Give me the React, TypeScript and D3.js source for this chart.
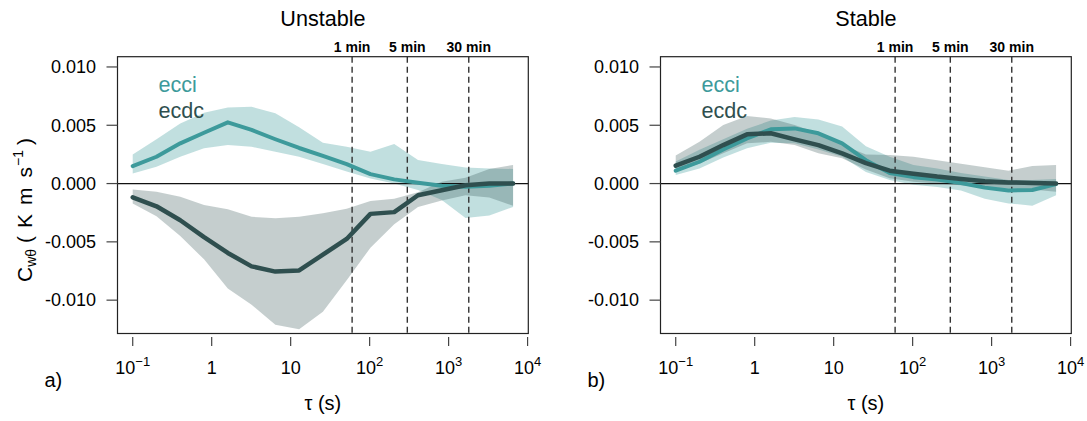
import * as d3 from 'd3';

// averaging time tau (s)
const tau = [0.1, 0.2, 0.4, 0.8, 1.6, 3.2, 6.4, 12.8, 25.6, 51.2, 102.4, 204.8, 409.6, 819.2, 1638.4, 3276.8, 6553.6];

// Unstable
const ecciMeanU = [0.0015, 0.0023, 0.00345, 0.00436, 0.00525, 0.0046, 0.0038, 0.00305, 0.00238, 0.00167, 0.00081, 0.00036, 0.00007, -0.00019, -0.00027, -0.00019, 0.0];
const ecciUpU = [0.0025, 0.00379, 0.00516, 0.00607, 0.00653, 0.00659, 0.00602, 0.00482, 0.0035, 0.00316, 0.00273, 0.00339, 0.00202, 0.00167, 0.00137, 0.0013, 0.00125];
const ecciLoU = [0.00087, 0.00144, 0.0023, 0.00302, 0.0033, 0.00316, 0.00273, 0.0023, 0.00167, 0.00103, 0.00043, 0.0, -0.00056, -0.00142, -0.00295, -0.00275, -0.002];
const ecdcMeanU = [-0.00118, -0.00195, -0.00315, -0.0046, -0.00595, -0.0071, -0.00755, -0.00745, -0.0061, -0.00475, -0.0026, -0.00245, -0.001, -0.00058, -0.00015, 0.0, 0.0];
const ecdcUpU = [-0.0005, -0.0007, -0.00113, -0.00184, -0.00221, -0.00285, -0.00298, -0.00285, -0.00255, -0.00215, -0.0015, -0.0013, -0.00075, 0.00015, 0.0005, 0.00125, 0.0016];
const ecdcLoU = [-0.0017, -0.0028, -0.0045, -0.0065, -0.009, -0.0104, -0.0121, -0.0125, -0.011, -0.0083, -0.0055, -0.0035, -0.002, -0.00145, -0.001, -0.0012, -0.0019];

// Stable
const ecciMeanS = [0.0011, 0.00187, 0.00293, 0.00388, 0.00465, 0.00473, 0.00431, 0.00345, 0.002, 0.0009, 0.00055, 0.00035, 0.00005, -0.00035, -0.0006, -0.00055, -0.00005];
const ecciUpS = [0.0019, 0.0029, 0.0038, 0.0047, 0.0054, 0.0057, 0.0055, 0.0049, 0.0032, 0.0023, 0.0016, 0.0013, 0.0009, 0.0006, 0.0003, 0.0003, 0.0004];
const ecciLoS = [0.00073, 0.0013, 0.00224, 0.00302, 0.0035, 0.00345, 0.00293, 0.0023, 0.001, 0.0003, -0.0001, -0.0003, -0.0006, -0.0013, -0.0017, -0.0019, -0.001];
const ecdcMeanS = [0.00153, 0.0023, 0.0033, 0.00422, 0.00431, 0.00379, 0.0033, 0.00259, 0.00175, 0.0011, 0.00085, 0.0006, 0.0004, 0.0002, 0.0001, 0.00005, 0.0];
const ecdcUpS = [0.0024, 0.00358, 0.00502, 0.0058, 0.00559, 0.00502, 0.00431, 0.0033, 0.0025, 0.00244, 0.0023, 0.002, 0.0017, 0.0014, 0.0011, 0.0015, 0.0016];
const ecdcLoS = [0.00101, 0.00173, 0.00259, 0.00345, 0.00358, 0.0033, 0.00259, 0.00216, 0.0012, 0.00045, 0.00015, 0.0, -0.00015, -0.00035, -0.00045, -0.0005, -0.0007];

const yTicks = [0.01, 0.005, 0, -0.005, -0.01];
const yTickLabels = ['0.010', '0.005', '0.000', '-0.005', '-0.010'];
const xTicks = [0.1, 1, 10, 100, 1000, 10000];
const xTickBase = ['10', '1', '10', '10', '10', '10'];
const xTickExp = ['\u22121', '', '', '2', '3', '4'];
const marks = [60, 300, 1800];
const markLabels = ['1 min', '5 min', '30 min'];

const ECCI = '#3d9a9b';
const ECDC = '#2f4f4f';
const FONT = 'Liberation Sans, Arial, sans-serif';

const W = 1087;
const H = 421;
const top = 56.7;
const bottom = 333.5;

function Panel({ x0, x1, title, tag, ecci, ecdc }) {
  const x = d3.scaleLog().domain([Math.pow(10, -1.1927), Math.pow(10, 4.0092)]).range([x0, x1]);
  const y = d3.scaleLinear().domain([-0.01286, 0.01088]).range([bottom, top]);

  const area = (up, lo) =>
    d3.area<number>().x((_, i) => x(tau[i])).y0((_, i) => y(lo[i])).y1((_, i) => y(up[i]))(tau);
  const line = (m) => d3.line<number>().x((_, i) => x(tau[i])).y((_, i) => y(m[i]))(tau);
  const cx = (x0 + x1) / 2;

  return (
    <g>
      <text x={cx} y={26} textAnchor="middle" fontSize={21.6} fontFamily={FONT}>{title}</text>
      <path d={area(ecci.up, ecci.lo)} fill={ECCI} fillOpacity={0.32} />
      <path d={area(ecdc.up, ecdc.lo)} fill={ECDC} fillOpacity={0.28} />
      <line x1={x0} x2={x1} y1={y(0)} y2={y(0)} stroke="#111" strokeWidth={1.2} />
      {marks.map((m, i) => (
        <g key={m}>
          <line x1={x(m)} x2={x(m)} y1={top} y2={bottom} stroke="#333" strokeWidth={1.4} strokeDasharray="6,4" />
          <text x={x(m)} y={52} textAnchor="middle" fontSize={14} fontWeight="bold" fontFamily={FONT}>{markLabels[i]}</text>
        </g>
      ))}
      <path d={line(ecci.mean)} fill="none" stroke={ECCI} strokeWidth={4} strokeLinejoin="round" strokeLinecap="round" />
      <path d={line(ecdc.mean)} fill="none" stroke={ECDC} strokeWidth={4.5} strokeLinejoin="round" strokeLinecap="round" />
      <rect x={x0} y={top} width={x1 - x0} height={bottom - top} fill="none" stroke="#222" strokeWidth={1.2} />
      {yTicks.map((t, i) => (
        <g key={t}>
          <line x1={x0 - 11} x2={x0} y1={y(t)} y2={y(t)} stroke="#444" strokeWidth={1.2} />
          <text x={x0 - 21.5} y={y(t)} dy="0.35em" textAnchor="end" fontSize={18} fontFamily={FONT}>{yTickLabels[i]}</text>
        </g>
      ))}
      {xTicks.map((t, i) => (
        <g key={t}>
          <line x1={x(t)} x2={x(t)} y1={337} y2={346} stroke="#444" strokeWidth={1.2} />
          <text x={x(t)} y={374} textAnchor="middle" fontSize={18} fontFamily={FONT}>
            {xTickBase[i]}
            {xTickExp[i] && <tspan dy={-8} fontSize={13}>{xTickExp[i]}</tspan>}
          </text>
        </g>
      ))}
      <text x={x0 - 73} y={386.5} fontSize={20} fontFamily={FONT}>{tag}</text>
      <text x={cx} y={410} textAnchor="middle" fontSize={20} fontFamily={FONT}>τ (s)</text>
      <text x={x0 + 41} y={91.7} fontSize={21.6} fill={ECCI} fontFamily={FONT}>ecci</text>
      <text x={x0 + 41} y={118.3} fontSize={21.6} fill={ECDC} fontFamily={FONT}>ecdc</text>
    </g>
  );
}

export default function App() {
  return (
    <svg width={W} height={H} style={{ position: 'absolute', left: 0, top: 0, background: '#fff' }}>
      <Panel
        x0={117.5}
        x1={528.3}
        title="Unstable"
        tag="a)"
        ecci={{ mean: ecciMeanU, up: ecciUpU, lo: ecciLoU }}
        ecdc={{ mean: ecdcMeanU, up: ecdcUpU, lo: ecdcLoU }}
      />
      <Panel
        x0={660.5}
        x1={1071.3}
        title="Stable"
        tag="b)"
        ecci={{ mean: ecciMeanS, up: ecciUpS, lo: ecciLoS }}
        ecdc={{ mean: ecdcMeanS, up: ecdcUpS, lo: ecdcLoS }}
      />
      {/* y label, rotated; plotmath-like spacing */}
      <g transform="translate(32,0) rotate(-90)" fontFamily={FONT} fontSize={21}>
        <text x={-282}>
          C<tspan dy={4} fontSize={14}>wθ</tspan>
          <tspan dy={-4} dx={6}>(</tspan>
          <tspan dx={8}>K</tspan>
          <tspan dx={9}>m</tspan>
          <tspan dx={10}>s</tspan>
          <tspan dy={-9} dx={1} fontSize={14}>−1</tspan>
          <tspan dy={9} dx={5}>)</tspan>
        </text>
      </g>
    </svg>
  );
}
